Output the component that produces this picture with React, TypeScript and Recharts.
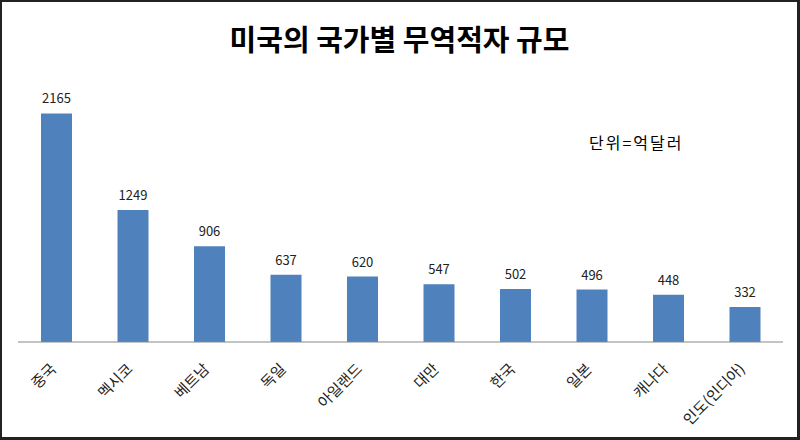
import { BarChart, Bar, XAxis, YAxis, LabelList } from "recharts";

const countries = ["중국", "멕시코", "베트남", "독일", "아일랜드", "대만", "한국", "일본", "캐나다", "인도(인디아)"];
const deficits = [2165, 1249, 906, 637, 620, 547, 502, 496, 448, 332];

const data = countries.map((name, i) => ({ name, value: deficits[i] }));

const FONT = "'Noto Sans CJK KR', 'Noto Sans', sans-serif";

function CategoryTick(props: any) {
  const { x, y, payload } = props;
  const ax = x + 1;
  const ay = y + 20;
  return (
    <text
      x={ax}
      y={ay}
      transform={`rotate(-45, ${ax}, ${ay})`}
      textAnchor="end"
      fontSize={15}
      fill="#222"
      fontFamily={FONT}
    >
      {payload.value}
    </text>
  );
}

export default function App() {
  return (
    <div
      style={{
        position: "absolute",
        left: 0,
        top: 0,
        width: 800,
        height: 440,
        boxSizing: "border-box",
        borderTop: "2px solid #222",
        borderLeft: "2px solid #222",
        borderRight: "3px solid #222",
        borderBottom: "3px solid #222",
        background: "#fff",
        fontFamily: FONT,
      }}
    >
      <div
        style={{
          position: "absolute",
          left: 0,
          right: 0,
          top: 15,
          textAlign: "center",
          fontSize: 29,
          fontWeight: 700,
          color: "#000",
        }}
      >
        미국의 국가별 무역적자 규모
      </div>
      <div
        style={{
          position: "absolute",
          left: 587,
          top: 128,
          fontSize: 16,
          letterSpacing: 2,
          color: "#000",
        }}
      >
        단위=억달러
      </div>
      <div style={{ position: "absolute", left: -2, top: -2 }}>
        <BarChart
          width={800}
          height={440}
          data={data}
          margin={{ top: 78, right: 17, left: 18, bottom: 0 }}
          barSize={31}
        >
          <XAxis
            dataKey="name"
            interval={0}
            tick={<CategoryTick />}
            tickLine={false}
            axisLine={{ stroke: "#888", strokeWidth: 1 }}
            height={98}
          />
          <YAxis hide domain={[0, 2500]} />
          <Bar dataKey="value" fill="#4f81bd" isAnimationActive={false}>
            <LabelList
              dataKey="value"
              position="top"
              offset={10}
              fontSize={13}
              fill="#222"
              fontFamily={FONT}
            />
          </Bar>
        </BarChart>
      </div>
    </div>
  );
}
